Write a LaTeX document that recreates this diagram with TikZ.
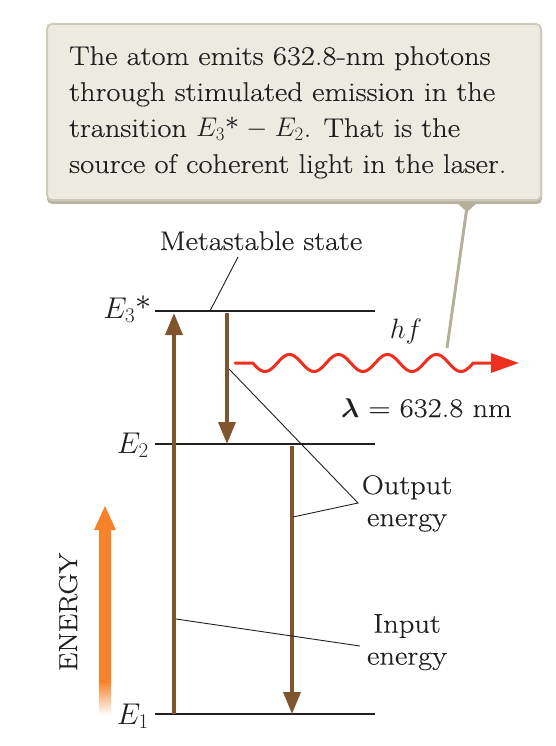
\RequirePackage{fix-cm}
\documentclass[tikz,border=0pt]{standalone}
\usepackage{amsmath}
\usepackage{bm}
\usepackage{fontspec}
\setmainfont{Latin Modern Roman}[FakeStretch=1.13, FakeBold=0.3]
\usetikzlibrary{arrows.meta}
\definecolor{boxfill}{HTML}{EDEAE0}
\definecolor{boxedge}{HTML}{CFCBBB}
\definecolor{boxshadow}{HTML}{B9B5A3}
\definecolor{pointer}{HTML}{B5B09A}
\definecolor{brownarrow}{HTML}{80552E}
\definecolor{wavered}{HTML}{EC2F1F}
\definecolor{energyorange}{HTML}{F7822A}
\definecolor{ink}{HTML}{231F20}
\begin{document}
\begin{tikzpicture}[x=1pt,y=-1pt,
  lvl/.style={draw=ink, line width=1.1pt},
  trans/.style={draw=brownarrow, line width=3.6pt, -{Triangle[length=22pt,width=17pt]}},
  lead/.style={draw=ink, line width=0.9pt},
  lbl/.style={font=\fontsize{27}{32}\selectfont, inner sep=0pt, align=center, text=ink},
  mlbl/.style={font=\fontsize{30}{34}\selectfont, inner sep=0pt, text=ink},
  boxtext/.style={font=\fontsize{27}{36}\selectfont, inner sep=0pt, align=left, text=ink},
]
\useasboundingbox (0,0) rectangle (556,746);
% callout box
\fill[boxshadow, rounded corners=5pt] (47,27) rectangle (542,204);
\fill[pointer] (456,202) -- (478,202) -- (467,212) -- cycle;
\draw[boxedge, fill=boxfill, line width=2pt, rounded corners=5pt] (47,24) rectangle (541,200);
\node[boxtext, anchor=north west] (note) at (69,46)
  {The atom emits 632.8-nm photons\\
   through stimulated emission in the\\
   transition $E_3$*\;$-$\;$E_2$. That is the\\
   source of coherent light in the laser.};
\coordinate (ptop) at (467,207);
\coordinate (pend) at (447,348);
\draw[pointer, line width=3pt] (ptop) -- (pend);
% levels
\coordinate (e3l) at (155,311); \coordinate (e3r) at (375,311);
\coordinate (e2l) at (155,444); \coordinate (e2r) at (375,444);
\coordinate (e1l) at (155,714); \coordinate (e1r) at (375,714);
\draw[lvl] (e3l) -- (e3r);
\draw[lvl] (e2l) -- (e2r);
\draw[lvl] (e1l) -- (e1r);
\node[mlbl, anchor=base east] (E3lab) at (151,318) {$E_3$*};
\node[mlbl, anchor=base east] (E2lab) at (149,453) {$E_2$};
\node[mlbl, anchor=base east] (E1lab) at (149,724) {$E_1$};
% transitions
\coordinate (upbot) at (174,714); \coordinate (uptop) at (174,313);
\coordinate (d1top) at (227,313); \coordinate (d1bot) at (227,444);
\coordinate (d2top) at (292,446); \coordinate (d2bot) at (292,714);
\draw[trans] (upbot) -- (uptop);
\draw[trans] (d1top) -- (d1bot);
\draw[trans] (d2top) -- (d2bot);
% photon wave
\coordinate (wstart) at (235,363);
\coordinate (wtip) at (519,363);
\draw[wavered, line width=3pt, line cap=round, -{Triangle[length=28pt,width=19pt]}]
  (wstart) -- (252.75,363)
  plot[domain=252.75:473.25, samples=240, smooth] (\x,{363+8.5*sin((\x-252.75)/49*360)})
  -- (wtip);
\node[mlbl, font=\fontsize{28}{32}\selectfont, anchor=base] (hf) at (406,338) {$hf$};
\node[lbl, anchor=base west] (lambda) at (341,417) {$\boldsymbol{\lambda}$ = 632.8 nm};
% metastable
\node[lbl, anchor=base] (meta) at (261,250) {Metastable state};
\coordinate (metaend) at (210,311);
\draw[lead] (238,257) -- (metaend);
% output energy
\node[lbl, anchor=north] (output) at (407,475) {Output\\energy};
\coordinate (o1) at (229,369);
\coordinate (obend) at (358,503);
\coordinate (o2) at (293,517);
\draw[lead] (o1) -- (obend) -- (o2);
% input energy
\node[lbl, anchor=north] (input) at (407,614) {Input\\energy};
\coordinate (i1) at (176,619);
\coordinate (i2) at (360,646);
\draw[lead] (i1) -- (i2);
% ENERGY axis
\node[lbl, font=\fontsize{26}{30}\selectfont, rotate=90, anchor=base] (energy) at (77,612) {ENERGY};
\fill[energyorange] (94,530) -- (105,506) -- (116,530) -- (111,530) -- (111,682) -- (99,682) -- (99,530) -- cycle;
\shade[top color=energyorange, bottom color=white] (99,681.5) rectangle (111,715);
\end{tikzpicture}
\end{document}
